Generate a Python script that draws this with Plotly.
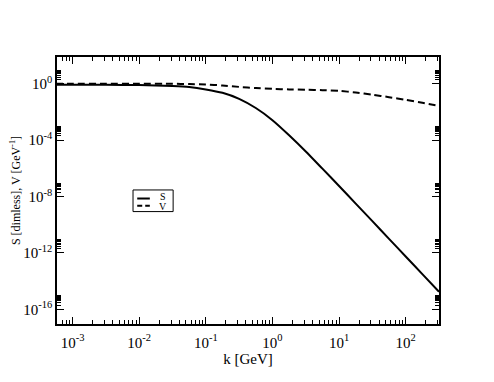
import plotly.graph_objects as go

# log10 of k [GeV] sample points
log_k = [-3.25, -3.0, -2.5, -2.0, -1.5, -1.25, -1.0, -0.75, -0.5, -0.25,
         0.0, 0.25, 0.5, 0.75, 1.0, 1.25, 1.5, 1.75, 2.0, 2.25, 2.5]
# log10 of S (dimensionless)
log_S = [-0.07, -0.07, -0.075, -0.09, -0.16, -0.23, -0.40, -0.64, -1.07, -1.72,
         -2.58, -3.65, -4.80, -6.02, -7.25, -8.50, -9.74, -11.0, -12.25, -13.5, -14.75]
# log10 of V [GeV^-1]
log_V = [0.0, 0.0, 0.0, 0.0, 0.0, -0.02, -0.05, -0.12, -0.22, -0.30,
         -0.36, -0.40, -0.42, -0.45, -0.50, -0.62, -0.77, -0.95, -1.14, -1.35, -1.56]

series_names = ["S", "V"]
x_tick_exp = [-3, -2, -1, 0, 1, 2]
y_tick_exp = [0, -4, -8, -12, -16]

k = [10 ** v for v in log_k]
S = [10 ** v for v in log_S]
V = [10 ** v for v in log_V]

font_family = "Liberation Serif, Times New Roman, serif"
dash_style = "7px,4px"

fig = go.Figure()
fig.add_trace(go.Scatter(x=k, y=S, mode="lines", name=series_names[0],
                         line=dict(color="black", width=2, shape="spline", smoothing=0.6)))
fig.add_trace(go.Scatter(x=k, y=V, mode="lines", name=series_names[1],
                         line=dict(color="black", width=2, dash=dash_style, shape="spline", smoothing=0.6)))

x_minor = [j * 10.0 ** e for e in range(-4, 3) for j in range(2, 10)]
y_minor = [j * 10.0 ** e for e in y_tick_exp for j in range(2, 10)]

# compact legend box (paper coordinates)
lx0, lx1, ly0, ly1 = 0.199, 0.304, 0.421, 0.502
shapes = [dict(type="rect", xref="paper", yref="paper", x0=lx0, x1=lx1, y0=ly0, y1=ly1,
               line=dict(color="black", width=1), fillcolor="white", layer="above")]
annotations = []
line_y = [0.470, 0.443]
text_y = [0.478, 0.440]
for i, (nm, dash) in enumerate(zip(series_names, ["solid", "5px,3px"])):
    shapes.append(dict(type="line", xref="paper", yref="paper", x0=0.210, x1=0.243,
                       y0=line_y[i], y1=line_y[i], line=dict(color="black", width=2, dash=dash),
                       layer="above"))
    annotations.append(dict(xref="paper", yref="paper", x=0.277, y=text_y[i], text=nm,
                            showarrow=False, xanchor="center", yanchor="middle",
                            font=dict(family=font_family, size=10, color="black")))

fig.update_layout(
    width=486, height=374,
    margin=dict(l=49, r=55, t=49, b=58),
    paper_bgcolor="white", plot_bgcolor="white",
    font=dict(family=font_family, color="black", size=14),
    showlegend=False,
    shapes=shapes, annotations=annotations,
)
fig.update_xaxes(
    type="log", range=[-3.234, 2.5], automargin=False,
    tickmode="array",
    tickvals=[10.0 ** e for e in x_tick_exp],
    ticktext=["10<sup>%d</sup>" % e for e in x_tick_exp],
    ticks="inside", ticklen=7, tickwidth=1, tickcolor="black",
    showline=True, linecolor="black", linewidth=1.5, mirror="allticks",
    showgrid=False, zeroline=False,
    minor=dict(tickmode="array", tickvals=x_minor, ticks="inside", ticklen=4,
               tickcolor="black", tickwidth=1, showgrid=False),
    tickfont=dict(size=15),
    ticklabelstandoff=4,
    title=dict(text="k [GeV]", font=dict(size=15), standoff=0),
)
fig.update_yaxes(
    type="log", range=[-17.04, 1.9], automargin=False,
    tickmode="array",
    tickvals=[10.0 ** e for e in y_tick_exp],
    ticktext=["10<sup>%d</sup>" % e for e in y_tick_exp],
    ticks="inside", ticklen=7, tickwidth=1, tickcolor="black",
    showline=True, linecolor="black", linewidth=1.5, mirror="allticks",
    showgrid=False, zeroline=False,
    minor=dict(tickmode="array", tickvals=y_minor, ticks="inside", ticklen=4,
               tickcolor="black", tickwidth=1, showgrid=False),
    tickfont=dict(size=15),
    title=dict(text="S [dimless], V [GeV<sup>-1</sup>]", font=dict(size=12), standoff=8),
)

fig.write_html("out.html")
